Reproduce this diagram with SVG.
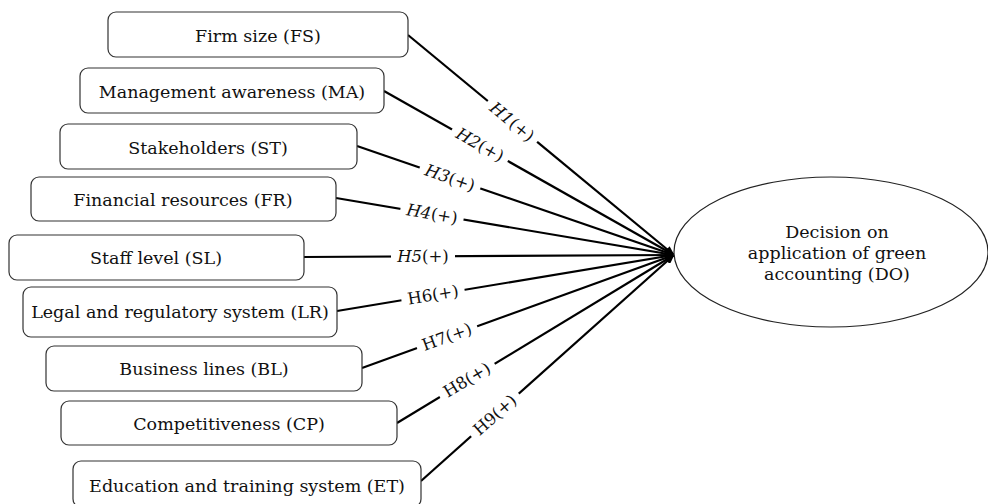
<svg xmlns="http://www.w3.org/2000/svg" width="988" height="504" viewBox="0 0 988 504">
<defs>
<style>
.box{fill:#fff;stroke:#333;stroke-width:1.2}
.t{font-family:"DejaVu Serif","Liberation Serif",serif;font-size:17.5px;fill:#111;text-anchor:middle}
.e{fill:#fff;stroke:#222;stroke-width:1.2}
.ln{stroke:#000;stroke-width:2.2;fill:none;marker-end:url(#ah)}
.lb{font-family:"DejaVu Serif","Liberation Serif",serif;font-size:16.5px;fill:#111;text-anchor:middle}
.it{font-style:italic}
.bg{fill:#fff}
</style>
<marker id="ah" markerWidth="10" markerHeight="8" refX="9" refY="4" orient="auto" markerUnits="userSpaceOnUse">
<path d="M0,0 L10,4 L0,8 z" fill="#000"/>
</marker>
</defs>
<rect width="988" height="504" fill="#fff"/>
<g id="connectors">
<line class="ln" x1="408" y1="35" x2="674" y2="255"/>
<line class="ln" x1="384" y1="91" x2="674" y2="255"/>
<line class="ln" x1="357" y1="146" x2="674" y2="255"/>
<line class="ln" x1="336" y1="198" x2="674" y2="255"/>
<line class="ln" x1="304" y1="257" x2="674" y2="255"/>
<line class="ln" x1="337" y1="311" x2="674" y2="255"/>
<line class="ln" x1="362" y1="368" x2="674" y2="255"/>
<line class="ln" x1="397" y1="423" x2="674" y2="255"/>
<line class="ln" x1="421" y1="481" x2="674" y2="255"/>
<g transform="translate(512,122) rotate(39.6)"><rect class="bg" x="-32" y="-10" width="64" height="20"/><text class="lb" y="5.5"><tspan class="it">H1</tspan>(+)</text></g>
<g transform="translate(480,145) rotate(29.5)"><rect class="bg" x="-32" y="-10" width="64" height="20"/><text class="lb" y="5.5"><tspan class="it">H2</tspan>(+)</text></g>
<g transform="translate(450,178) rotate(19.1)"><rect class="bg" x="-32" y="-10" width="64" height="20"/><text class="lb" y="5.5"><tspan class="it">H3</tspan>(+)</text></g>
<g transform="translate(432,214) rotate(9.6)"><rect class="bg" x="-32" y="-10" width="64" height="20"/><text class="lb" y="5.5"><tspan class="it">H4</tspan>(+)</text></g>
<g transform="translate(423,256) rotate(0)"><rect class="bg" x="-32" y="-10" width="64" height="20"/><text class="lb" y="5.5"><tspan class="it">H5</tspan>(+)</text></g>
<g transform="translate(433,295) rotate(-9.4)"><rect class="bg" x="-32" y="-10" width="64" height="20"/><text class="lb" y="5.5">H6(+)</text></g>
<g transform="translate(447,337) rotate(-19.9)"><rect class="bg" x="-32" y="-10" width="64" height="20"/><text class="lb" y="5.5">H7(+)</text></g>
<g transform="translate(467,380) rotate(-31.2)"><rect class="bg" x="-32" y="-10" width="64" height="20"/><text class="lb" y="5.5">H8(+)</text></g>
<g transform="translate(495,415) rotate(-41.8)"><rect class="bg" x="-32" y="-10" width="64" height="20"/><text class="lb" y="5.5">H9(+)</text></g>
</g>
<g id="FS"><rect class="box" x="108" y="12" width="300" height="45" rx="8"/><text class="t" x="258" y="42">Firm size (FS)</text></g>
<g id="MA"><rect class="box" x="80" y="68" width="304" height="45" rx="8"/><text class="t" x="232" y="98">Management awareness (MA)</text></g>
<g id="ST"><rect class="box" x="60" y="124" width="297" height="45" rx="8"/><text class="t" x="208" y="154">Stakeholders (ST)</text></g>
<g id="FR"><rect class="box" x="31" y="177" width="305" height="44" rx="8"/><text class="t" x="183" y="206">Financial resources (FR)</text></g>
<g id="SL"><rect class="box" x="9" y="235" width="295" height="45" rx="8"/><text class="t" x="156" y="264">Staff level (SL)</text></g>
<g id="LR"><rect class="box" x="23" y="287" width="314" height="50" rx="8"/><text class="t" x="180" y="318">Legal and regulatory system (LR)</text></g>
<g id="BL"><rect class="box" x="46" y="346" width="316" height="45" rx="8"/><text class="t" x="204" y="375">Business lines (BL)</text></g>
<g id="CP"><rect class="box" x="61" y="401" width="336" height="44" rx="8"/><text class="t" x="229" y="430">Competitiveness (CP)</text></g>
<g id="ET"><rect class="box" x="73" y="461" width="348" height="46" rx="8"/><text class="t" x="247" y="492">Education and training system (ET)</text></g>
<g id="DO"><ellipse class="e" cx="831" cy="252" rx="157" ry="75"/><text class="t" x="837" y="238">Decision on</text><text class="t" x="837" y="259">application of green</text><text class="t" x="837" y="280">accounting (DO)</text></g>
</svg>
